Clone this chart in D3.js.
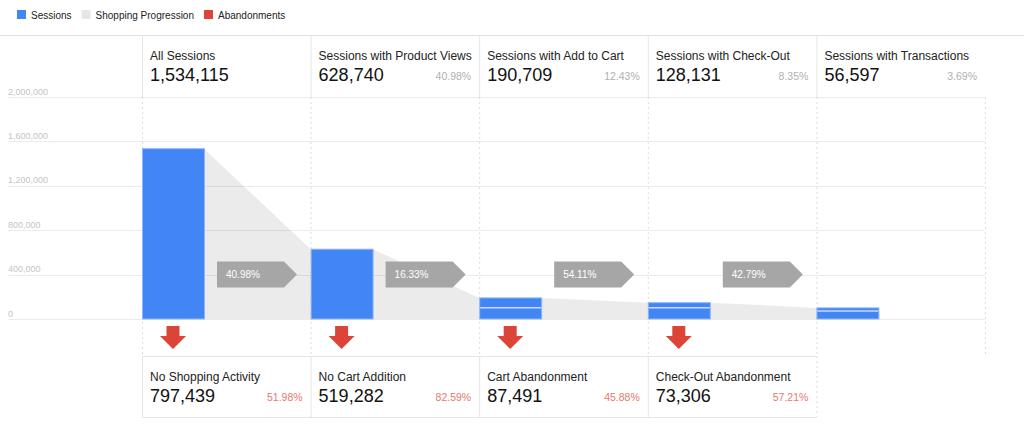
<!DOCTYPE html>
<html>
<head>
<meta charset="utf-8">
<script src="https://cdn.jsdelivr.net/npm/d3@7"></script>
<style>
  body { margin: 0; background: white; font-family: "Liberation Sans", Arial, sans-serif; }
  svg text { font-family: "Liberation Sans", Arial, sans-serif; }
</style>
</head>
<body>
<div id="funnel"></div>
<script>
// Shopping behaviour funnel

// Data
var steps = ["All Sessions", "Sessions with Product Views", "Sessions with Add to Cart",
             "Sessions with Check-Out", "Sessions with Transactions"];
var sessions = [1534115, 628740, 190709, 128131, 56597];
var stepPct = [null, 40.98, 12.43, 8.35, 3.69];
var progressPct = [40.98, 16.33, 54.11, 42.79];
var abandonNames = ["No Shopping Activity", "No Cart Addition", "Cart Abandonment", "Check-Out Abandonment"];
var abandonValues = [797439, 519282, 87491, 73306];
var abandonPct = [51.98, 82.59, 45.88, 57.21];
// bars as drawn (lower / upper part)
var barLower = [1534115, 628740, 102000, 102000, 72000];
var barUpper = [0, 0, 88000, 45000, 28000];
var yTicks = [0, 400000, 800000, 1200000, 1600000, 2000000];

var legendItems = ["Sessions", "Shopping Progression", "Abandonments"];
var legendColors = ["#4285f4", "#e6e6e6", "#db4437"];

// Define SVG attributes
var width = 1024;
var height = 430;
var headerTop = 35;
var plotTop = 97;
var plotBottom = 319;
var boxTop = 356;
var boxBottom = 417;
var barWidth = 62;

var svg = d3.select("#funnel")
    .append("svg")
    .attr("width", width)
    .attr("height", height);

var fmt = d3.format(",");

// Scales
var xScale = d3.scaleBand()
    .domain(d3.range(steps.length))
    .range([142, 985])
    .padding(0);
var colW = xScale.bandwidth();

var yScale = d3.scaleLinear()
    .domain([0, 2000000])
    .range([plotBottom, plotTop]);

// Legend ===============================
var legend = svg.append("g").attr("transform", "translate(17,10)");
var lx = 0;
legendItems.forEach(function(name, i) {
    legend.append("rect")
        .attr("x", lx).attr("y", 0)
        .attr("width", 9).attr("height", 9)
        .attr("fill", legendColors[i]);
    var t = legend.append("text")
        .attr("x", lx + 14).attr("y", 8.5)
        .attr("font-size", 10)
        .attr("fill", "#222")
        .text(name);
    lx += 14 + t.node().getComputedTextLength() + 10;
});

svg.append("line")
    .attr("x1", 0).attr("x2", width)
    .attr("y1", headerTop + 0.5).attr("y2", headerTop + 0.5)
    .attr("stroke", "#e0e0e0");

// Funnel area (shopping progression) =====
var areaG = svg.append("g");
for (var i = 0; i < steps.length - 1; i++) {
    var x0 = xScale(i) + barWidth;
    var x1 = xScale(i + 1);
    var t0 = yScale(barLower[i] + barUpper[i]);
    var t1 = yScale(barLower[i + 1] + barUpper[i + 1]);
    areaG.append("path")
        .attr("d", `M${x0},${t0}L${x1},${t1}L${x1},${yScale(0)}L${x0},${yScale(0)}Z`)
        .attr("fill", "#ebebeb");
}

// Gridlines + y labels ===================
var grid = svg.append("g");
yTicks.forEach(function(v) {
    grid.append("line")
        .attr("x1", 8).attr("x2", 985)
        .attr("y1", Math.round(yScale(v)) + 0.5).attr("y2", Math.round(yScale(v)) + 0.5)
        .attr("stroke", "#000")
        .attr("stroke-opacity", 0.08);
    grid.append("text")
        .attr("x", 8).attr("y", yScale(v) - 2.5)
        .attr("font-size", 9)
        .attr("fill", "#c4c4c4")
        .text(fmt(v));
});

// Column dotted lines
xScale.domain().concat([steps.length]).forEach(function(i) {
    var x = (i < steps.length ? xScale(i) : 985) + 0.5;
    svg.append("line")
        .attr("x1", x).attr("x2", x)
        .attr("y1", plotTop).attr("y2", boxTop)
        .attr("stroke", "#dcdcdc")
        .attr("stroke-dasharray", "2,3");
});

// Header cells ===========================
var header = svg.append("g");
steps.forEach(function(name, i) {
    var x = xScale(i);
    if (i < steps.length) {
        header.append("line")
            .attr("x1", x + 0.5).attr("x2", x + 0.5)
            .attr("y1", headerTop).attr("y2", plotTop)
            .attr("stroke", "#e6e6e6");
    }
    header.append("text")
        .attr("x", x + 8).attr("y", 60)
        .attr("font-size", 12)
        .attr("fill", "#222")
        .text(name);
    header.append("text")
        .attr("x", x + 8).attr("y", 81)
        .attr("font-size", 18)
        .attr("fill", "#111")
        .text(fmt(sessions[i]));
    if (stepPct[i] !== null) {
        header.append("text")
            .attr("x", x + colW - 8).attr("y", 80)
            .attr("text-anchor", "end")
            .attr("font-size", 10.5)
            .attr("fill", "#b0b0b0")
            .text(stepPct[i].toFixed(2) + "%");
    }
});

// Bars ===================================
var bars = svg.append("g");
steps.forEach(function(name, i) {
    var x = xScale(i);
    bars.append("rect")
        .attr("x", x + 0.5)
        .attr("y", yScale(barLower[i] + barUpper[i]))
        .attr("width", barWidth)
        .attr("height", yScale(0) - yScale(barLower[i] + barUpper[i]))
        .attr("fill", "#4285f4")
        .attr("stroke", "#8fb5f8")
        .attr("stroke-width", 1);
    if (barUpper[i] > 0) {
        bars.append("line")
            .attr("x1", x + 1).attr("x2", x + barWidth)
            .attr("y1", yScale(barLower[i])).attr("y2", yScale(barLower[i]))
            .attr("stroke", "#c9dcfc")
            .attr("stroke-width", 1.5);
    }
});

// Progression arrows =====================
var prog = svg.append("g");
progressPct.forEach(function(p, i) {
    var x = xScale(i) + 75;
    var cy = yScale(400000);
    prog.append("path")
        .attr("d", `M${x},${cy - 13}L${x + 67},${cy - 13}L${x + 80},${cy}L${x + 67},${cy + 13}L${x},${cy + 13}Z`)
        .attr("fill", "#a6a6a6");
    prog.append("text")
        .attr("x", x + 9).attr("y", cy + 3.5)
        .attr("font-size", 10)
        .attr("fill", "white")
        .text(p.toFixed(2) + "%");
});

// Abandonment arrows + boxes =============
var aband = svg.append("g");
abandonNames.forEach(function(name, i) {
    var x = xScale(i);
    var cx = x + barWidth / 2;
    aband.append("path")
        .attr("d", `M${cx - 6.5},326L${cx + 6.5},326L${cx + 6.5},336L${cx + 13},336L${cx},349L${cx - 13},336L${cx - 6.5},336Z`)
        .attr("fill", "#db4437");
    aband.append("text")
        .attr("x", x + 8).attr("y", 381)
        .attr("font-size", 12)
        .attr("fill", "#222")
        .text(name);
    aband.append("text")
        .attr("x", x + 8).attr("y", 402)
        .attr("font-size", 18)
        .attr("fill", "#111")
        .text(fmt(abandonValues[i]));
    aband.append("text")
        .attr("x", x + colW - 8).attr("y", 401)
        .attr("text-anchor", "end")
        .attr("font-size", 10.5)
        .attr("fill", "#e8776c")
        .text(abandonPct[i].toFixed(2) + "%");
    aband.append("line")
        .attr("x1", x + 0.5).attr("x2", x + 0.5)
        .attr("y1", boxTop).attr("y2", boxBottom)
        .attr("stroke", "#e6e6e6");
});
var boxRight = xScale(abandonNames.length);
[boxTop, boxBottom].forEach(function(y) {
    aband.append("line")
        .attr("x1", xScale(0)).attr("x2", boxRight)
        .attr("y1", y + 0.5).attr("y2", y + 0.5)
        .attr("stroke", "#e6e6e6");
});
aband.append("line")
    .attr("x1", boxRight + 0.5).attr("x2", boxRight + 0.5)
    .attr("y1", boxTop).attr("y2", boxBottom)
    .attr("stroke", "#dcdcdc")
    .attr("stroke-dasharray", "2,3");
</script>
</body>
</html>
